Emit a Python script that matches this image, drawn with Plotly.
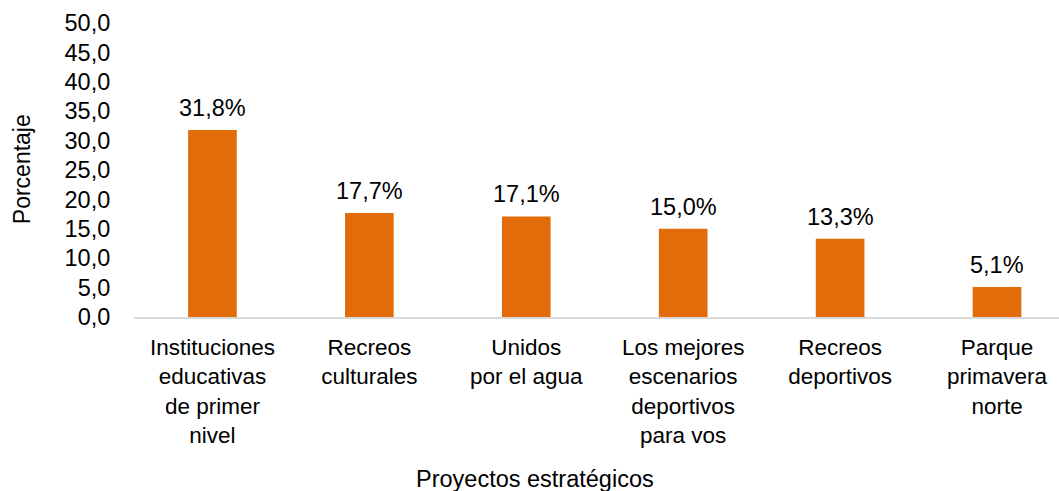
import plotly.graph_objects as go

categories = [
    "Instituciones<br>educativas<br>de primer<br>nivel",
    "Recreos<br>culturales",
    "Unidos<br>por el agua",
    "Los mejores<br>escenarios<br>deportivos<br>para vos",
    "Recreos<br>deportivos",
    "Parque<br>primavera<br>norte",
]
values = [31.8, 17.7, 17.1, 15.0, 13.3, 5.1]
value_labels = ["31,8%", "17,7%", "17,1%", "15,0%", "13,3%", "5,1%"]
y_ticks = [0, 5, 10, 15, 20, 25, 30, 35, 40, 45, 50]
y_tick_labels = ["0,0", "5,0", "10,0", "15,0", "20,0", "25,0", "30,0", "35,0", "40,0", "45,0", "50,0"]

FONT = "Liberation Sans, Arial, sans-serif"
BAR = "#E36C0A"

x_idx = list(range(len(categories)))

fig = go.Figure()
fig.add_trace(go.Bar(x=x_idx, y=values, marker=dict(color=BAR, line=dict(width=0)),
                     width=0.31, hoverinfo="skip"))

for xi, v, t in zip(x_idx, values, value_labels):
    fig.add_annotation(x=xi, y=v, text=t, showarrow=False, xref="x", yref="y",
                       yanchor="bottom", yshift=7,
                       font=dict(family=FONT, size=23.5, color="#000000"))

fig.add_annotation(text="Proyectos estratégicos", xref="paper", yref="paper",
                   x=0.4335, y=-0.55, xanchor="center", yanchor="middle", showarrow=False,
                   font=dict(family=FONT, size=23.5, color="#000000"))
fig.add_annotation(text="Porcentaje", xref="paper", yref="paper",
                   x=-0.121, y=0.503, xanchor="center", yanchor="middle", showarrow=False,
                   textangle=-90, font=dict(family=FONT, size=23, color="#000000"))

fig.update_layout(
    width=1059, height=491,
    margin=dict(l=134, r=0, t=23, b=174),
    paper_bgcolor="white", plot_bgcolor="white",
    showlegend=False,
    font=dict(family=FONT, size=23, color="#000000"),
    xaxis=dict(
        tickmode="array", tickvals=x_idx, ticktext=categories,
        range=[-0.5, 5.395],
        showgrid=False, zeroline=False,
        showline=True, linecolor="#D9D9D9", linewidth=2,
        ticks="outside", ticklen=9, tickcolor="rgba(0,0,0,0)",
        tickfont=dict(family=FONT, size=22.5, color="#000000"),
        fixedrange=True,
    ),
    yaxis=dict(
        range=[0, 50], tickmode="array", tickvals=y_ticks, ticktext=y_tick_labels,
        showgrid=False, zeroline=False, showline=False,
        ticks="outside", ticklen=18, tickcolor="rgba(0,0,0,0)",
        tickfont=dict(family=FONT, size=23.5, color="#000000"),
        fixedrange=True,
    ),
)

fig.write_html("out.html", config={"displayModeBar": False},
               post_script="document.body.style.margin='0';document.body.style.overflow='hidden';")
